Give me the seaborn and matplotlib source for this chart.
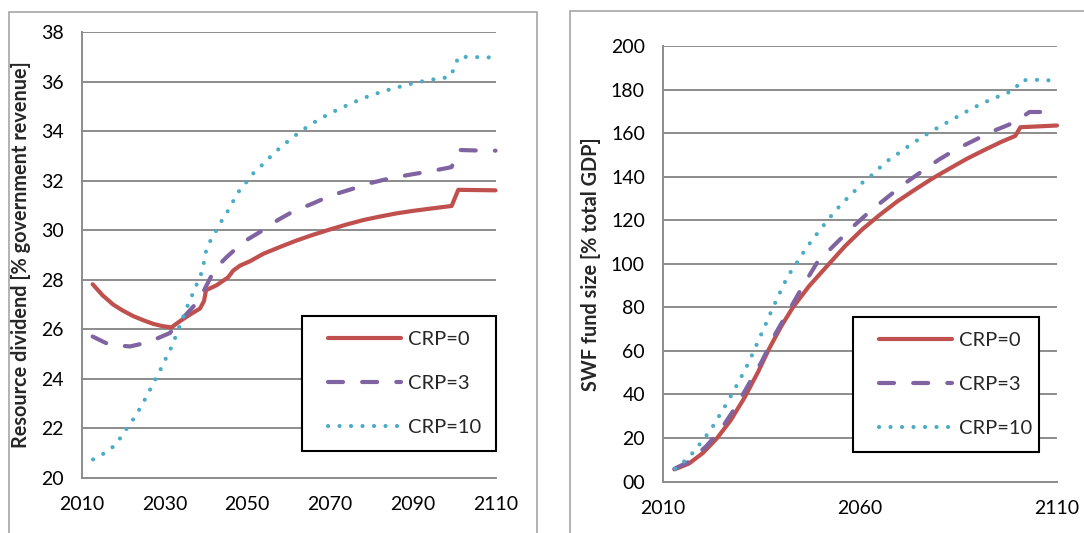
import numpy as np
import pandas as pd
import matplotlib
matplotlib.use("Agg")
import matplotlib.pyplot as plt
import seaborn as sns
from matplotlib.patches import Rectangle
from matplotlib.ticker import FuncFormatter
from matplotlib.legend_handler import HandlerLine2D
from matplotlib.lines import Line2D

sns.set_style("white")
plt.rcParams['font.family'] = ['Lato', 'DejaVu Sans']

# ---------------- data: left panel (resource dividend, % government revenue)
rd_crp0_years = [2012.65, 2015, 2017.6, 2020, 2022.5, 2025, 2027.3, 2029.5, 2031.7, 2033.75,
                 2036.2, 2038.6, 2039.55, 2040.05, 2042.6, 2045.4, 2046.6, 2048.25, 2050.7, 2053.9,
                 2058, 2062, 2066, 2070, 2074, 2078.05, 2082, 2086.1, 2090, 2094.2,
                 2099.4, 2101, 2110]
rd_crp0_vals = [27.82, 27.38, 27.0, 26.75, 26.53, 26.36, 26.22, 26.13, 26.08, 26.33,
                26.6, 26.84, 27.14, 27.58, 27.78, 28.1, 28.37, 28.57, 28.75, 29.05,
                29.33, 29.59, 29.82, 30.03, 30.23, 30.41, 30.55, 30.68, 30.78, 30.87,
                30.98, 31.63, 31.61]

rd_crp3_years = [2012.65, 2016.8, 2021.7, 2026.1, 2031.3, 2033.75, 2037.8, 2039.4, 2042.2, 2045,
                 2049, 2053.1, 2057.3, 2061, 2066, 2070, 2075.25, 2079.7, 2084.9, 2089.3,
                 2094.2, 2098.6, 2099.4, 2101, 2107, 2110]
rd_crp3_vals = [25.71, 25.37, 25.31, 25.48, 25.85, 26.33, 27.07, 27.52, 28.44, 28.91,
                29.52, 29.93, 30.4, 30.75, 31.09, 31.39, 31.66, 31.9, 32.11, 32.24,
                32.38, 32.52, 32.55, 33.24, 33.21, 33.21]

rd_crp10_years = [2012.75, 2015.25, 2017.75, 2019.4, 2021, 2022.75, 2024.2, 2025.6, 2026.9, 2028.25,
                  2029.6, 2030.8, 2032.1, 2033, 2034.2, 2035.1, 2036.25, 2037.3, 2038.6, 2039.4,
                  2039.8, 2040.75, 2042.2, 2043.6, 2045.1, 2046.5, 2047.9, 2049.7, 2051.5, 2053.6,
                  2055.7, 2057.75, 2059.9, 2062.2, 2064.4, 2066.9, 2069.4, 2071.9, 2074.6, 2077.1,
                  2079.75, 2082.5, 2085.2, 2088, 2090.75, 2093.6, 2096.25, 2098.9, 2100.1, 2101, 2110]
rd_crp10_vals = [20.75, 20.98, 21.28, 21.63, 22.02, 22.44, 22.84, 23.27, 23.69, 24.13,
                 24.55, 25.0, 25.41, 25.87, 26.33, 26.78, 27.19, 27.64, 28.1, 28.56,
                 29.03, 29.47, 29.89, 30.32, 30.71, 31.14, 31.55, 31.92, 32.3, 32.63,
                 32.98, 33.3, 33.6, 33.9, 34.16, 34.43, 34.66, 34.87, 35.08, 35.26,
                 35.44, 35.58, 35.72, 35.84, 35.96, 36.05, 36.12, 36.18, 36.55, 37.0, 36.97]

# ---------------- data: right panel (SWF fund size, % total GDP)
swf_crp0_years = [2012.9, 2016.6, 2020.1, 2023.7, 2027.2, 2030.7, 2034.2, 2036.9, 2040, 2043,
                  2047, 2051.9, 2056.3, 2060.7, 2065.1, 2069.5, 2073.9, 2078.3, 2082.7, 2087.1,
                  2091.5, 2096, 2099.4, 2100.7, 2110]
swf_crp0_vals = [5.6, 8.3, 13.1, 19.9, 28.2, 38.6, 50.6, 60.9, 71.3, 80.1,
                 89.6, 99.5, 108.3, 116.0, 122.6, 128.7, 134.0, 139.1, 143.7, 148.2,
                 152.2, 156.1, 158.7, 162.7, 163.5]

swf_crp3_years = [2012.9, 2016.6, 2021, 2024.5, 2028, 2031.6, 2035.1, 2038.6, 2042.2, 2045.7,
                  2049.2, 2053.6, 2058, 2062.4, 2066.8, 2071.2, 2075.6, 2080, 2084.4, 2088.9,
                  2093.3, 2097.7, 2100.3, 2103, 2110]
swf_crp3_vals = [5.9, 9.1, 16.3, 23.4, 33.0, 44.2, 55.3, 68.1, 79.3, 90.4,
                 100.8, 108.8, 116.7, 123.9, 130.3, 136.7, 142.3, 147.8, 152.6, 156.6,
                 160.6, 163.8, 166.2, 169.7, 169.7]

swf_crp10_years = [2013.1, 2015.3, 2017.5, 2019.4, 2021.3, 2023, 2024.5, 2026.1, 2027.6, 2029.1,
                   2030.5, 2031.9, 2033.1, 2034.3, 2035.6, 2036.8, 2038, 2039.3, 2040.6, 2042,
                   2043.7, 2045.3, 2047, 2048.8, 2050.7, 2052.6, 2054.5, 2056.6, 2058.7, 2060.9,
                   2063.3, 2065.5, 2067.7, 2070.4, 2072.8, 2075.4, 2077.9, 2080.5, 2083.2, 2085.8,
                   2088.4, 2091.1, 2093.7, 2096.5, 2099.3, 2100.7, 2103.6, 2106.5, 2110]
swf_crp10_vals = [5.9, 9.1, 13.1, 17.4, 21.8, 26.3, 30.9, 35.7, 40.5, 45.5,
                  50.2, 55.3, 60.1, 65.2, 70.3, 75.4, 80.2, 85.3, 90.4, 95.2,
                  99.7, 104.3, 108.8, 113.1, 117.5, 121.8, 125.8, 129.8, 133.5, 137.8,
                  141.1, 145.0, 148.3, 151.5, 154.7, 157.7, 160.6, 163.3, 166.0, 168.7,
                  171.3, 173.7, 175.8, 177.8, 179.9, 184.2, 184.5, 184.4, 184.0]

labels = ["CRP=0", "CRP=3", "CRP=10"]
left_xticks = [2010, 2030, 2050, 2070, 2090, 2110]
left_yticks = [20, 22, 24, 26, 28, 30, 32, 34, 36, 38]
right_xticks = [2010, 2060, 2110]
right_yticks = [0, 20, 40, 60, 80, 100, 120, 140, 160, 180, 200]
left_ylabel = "Resource dividend [% government revenue]"
right_ylabel = "SWF fund size [% total GDP]"

# ---------------- styles
colors = ["#C0504D", "#8064A2", "#4BACC6"]
styles = ["-", (0, (3.6, 4.6)), (0, (0.01, 2.75))]
LW = 3.0
GRID = "#8c8c8c"
FS = 14

fig = plt.figure(figsize=(10.84, 5.33), dpi=100)

# chart-area borders
fig.patches.append(Rectangle((8.5 / 1084, -0.05), (537 - 8.5) / 1084, 1.05 - 12 / 533,
                             transform=fig.transFigure, fill=False, edgecolor="#a6a6a6", lw=1.2))
fig.patches.append(Rectangle((569.5 / 1084, -0.05), 0.5, 1.05 - 11 / 533,
                             transform=fig.transFigure, fill=False, edgecolor="#a6a6a6", lw=1.2))

axL = fig.add_axes([81.7 / 1084, 1 - 478 / 533, (495.5 - 81.7) / 1084, (478 - 32) / 533])
axR = fig.add_axes([663 / 1084, 1 - 481.6 / 533, (1057 - 663) / 1084, (481.6 - 46) / 533])


def draw(ax, series, xlim, ylim, xticks, yticks, ylabel, legend_box):
    for (xs, ys), lab, c, ls in zip(series, labels, colors, styles):
        df = pd.DataFrame({"year": xs, "val": ys})
        sns.lineplot(data=df, x="year", y="val", ax=ax, color=c, linewidth=LW, label=lab,
                     linestyle=ls, solid_capstyle="round", dash_capstyle="round", sort=False,
                     estimator=None)
    ax.set_xlim(*xlim)
    ax.set_ylim(*ylim)
    ax.set_xticks(xticks)
    ax.set_yticks(yticks)
    ax.set_xlabel("")
    ax.set_ylabel(ylabel, fontsize=14.3, fontweight="bold", labelpad=7)
    ax.grid(axis="y", color=GRID, lw=1.4)
    ax.grid(axis="x", visible=False)
    ax.set_axisbelow(True)
    for s in ["top", "right"]:
        ax.spines[s].set_visible(False)
    for s in ["left", "bottom"]:
        ax.spines[s].set_color(GRID)
        ax.spines[s].set_linewidth(1.4)
    ax.tick_params(axis="both", length=0, labelsize=FS, colors="black")
    ax.tick_params(axis="y", pad=13)
    ax.tick_params(axis="x", pad=13)
    x0, y0, w, h = legend_box
    handles, labs = ax.get_legend_handles_labels()
    leg = ax.legend(handles, labs, loc="center", bbox_to_anchor=(x0, y0, w, h), mode="expand",
                    frameon=True, fancybox=False, fontsize=14.5, handlelength=4.2,
                    handletextpad=0.35, labelspacing=1.35, borderpad=0.72, borderaxespad=0,
                    handler_map={Line2D: HandlerLine2D(xpad=0.6)})
    fr = leg.get_frame()
    fr.set_edgecolor("black")
    fr.set_linewidth(1.5)
    fr.set_alpha(1)
    return leg


draw(axL,
     [(rd_crp0_years, rd_crp0_vals), (rd_crp3_years, rd_crp3_vals), (rd_crp10_years, rd_crp10_vals)],
     (2010, 2110), (20, 38), left_xticks, left_yticks, left_ylabel,
     (0.532, 0.0605, 0.468, 0.3025))
draw(axR,
     [(swf_crp0_years, swf_crp0_vals), (swf_crp3_years, swf_crp3_vals), (swf_crp10_years, swf_crp10_vals)],
     (2010, 2110), (0, 200), right_xticks, right_yticks, right_ylabel,
     (0.482, 0.0565, 0.472, 0.3325))
axR.yaxis.set_major_formatter(FuncFormatter(lambda v, p: f"{int(v):02d}"))

for ax in (axL, axR):
    for ln in ax.get_lines():
        ln.set_clip_on(False)

fig.savefig("out.png", dpi=100)
